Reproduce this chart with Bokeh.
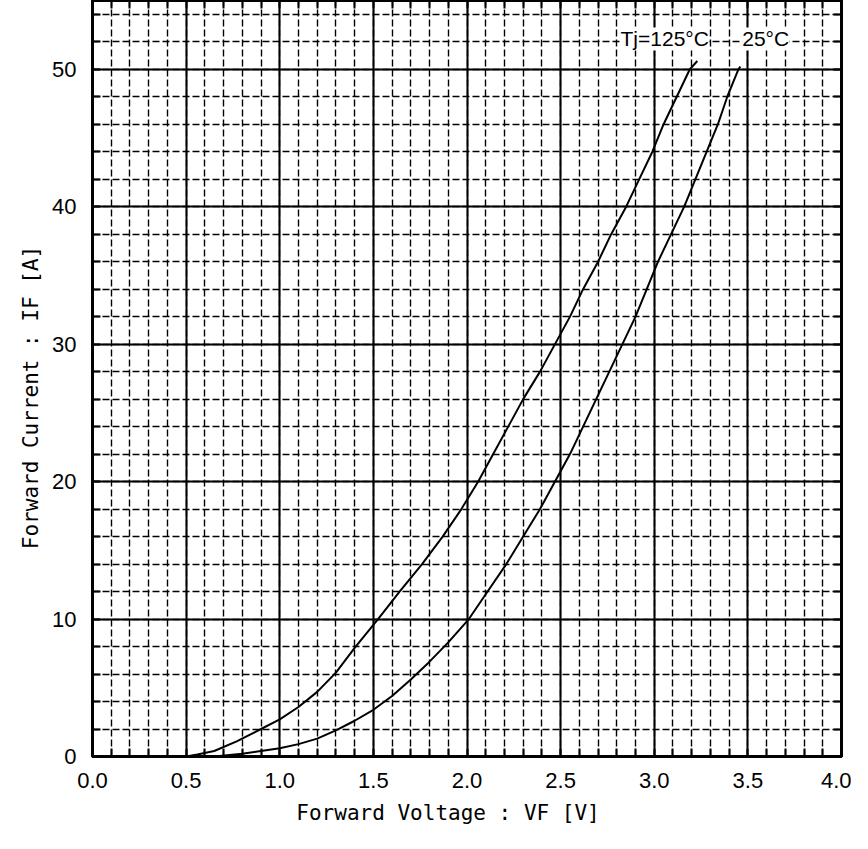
from bokeh.plotting import figure
from bokeh.models import FixedTicker, LinearAxis, Label, Range1d, NumeralTickFormatter
from bokeh.embed import file_html
from bokeh.resources import INLINE

# ---- data ----
vf_125 = [0.50, 0.56, 0.65, 0.77, 0.90, 1.00, 1.10, 1.20, 1.30, 1.40, 1.525, 1.64, 1.76, 1.87, 1.97,
          2.06, 2.14, 2.22, 2.30, 2.39, 2.47, 2.55, 2.62, 2.70, 2.77, 2.85, 2.92, 2.99, 3.05,
          3.12, 3.19, 3.23]
if_125 = [0.0, 0.15, 0.4, 1.1, 2.0, 2.7, 3.6, 4.7, 6.1, 7.9, 10.0, 12.0, 14.0, 16.0, 18.0,
          20.0, 22.0, 24.0, 26.0, 28.0, 30.0, 32.0, 34.0, 36.0, 38.0, 40.0, 42.0, 44.0, 46.0,
          48.0, 50.0, 50.6]

vf_25 = [0.65, 0.80, 0.90, 1.00, 1.10, 1.20, 1.30, 1.40, 1.50, 1.60, 1.70, 1.80, 1.90,
         2.01, 2.11, 2.21, 2.30, 2.39, 2.47, 2.55, 2.62, 2.69, 2.76, 2.83, 2.90, 2.96, 3.02,
         3.09, 3.16, 3.22, 3.28, 3.34, 3.39, 3.45, 3.46]
if_25 = [0.0, 0.2, 0.4, 0.6, 0.9, 1.3, 1.9, 2.6, 3.4, 4.4, 5.6, 6.9, 8.3,
         10.0, 12.0, 14.0, 16.0, 18.0, 20.0, 22.0, 24.0, 26.0, 28.0, 30.0, 32.0, 34.0, 36.0,
         38.0, 40.0, 42.0, 44.0, 46.0, 48.0, 50.0, 50.2]

x_major = [0.0, 0.5, 1.0, 1.5, 2.0, 2.5, 3.0, 3.5, 4.0]
x_minor = [i / 10 for i in range(0, 41)]
y_major = [0, 10, 20, 30, 40, 50]
y_minor = [i for i in range(0, 56, 2)]

series_labels = ["Tj=125°C", "25°C"]
x_title = "Forward Voltage  :  VF  [V]"
y_title = "Forward Current  :  IF  [A]"

# ---- figure ----
p = figure(frame_width=749, frame_height=756,
           x_range=Range1d(0, 4.0), y_range=Range1d(0, 55),
           output_backend="svg", toolbar_location=None,
           min_border_left=92, min_border_right=10, min_border_top=0, min_border_bottom=0,
           background_fill_color="white", border_fill_color="white")
p.outline_line_color = "black"
p.outline_line_width = 3

xt = FixedTicker(ticks=x_major, minor_ticks=x_minor)
yt = FixedTicker(ticks=y_major, minor_ticks=y_minor)

for ax, t in ((p.xaxis[0], xt), (p.yaxis[0], yt)):
    ax.ticker = t
    ax.axis_line_color = "black"
    ax.axis_line_width = 3
    ax.major_tick_in = 0
    ax.major_tick_out = 0
    ax.minor_tick_in = 8
    ax.minor_tick_out = 0
    ax.minor_tick_line_color = "black"
    ax.minor_tick_line_width = 2
    ax.major_label_text_font = "Liberation Sans"
    ax.major_label_text_font_size = "22px"
    ax.major_label_text_color = "black"
    ax.major_label_standoff = 16
    ax.axis_label_text_font = "DejaVu Sans Mono"
    ax.axis_label_text_font_size = "21px"
    ax.axis_label_text_font_style = "normal"
    ax.axis_label_text_color = "black"

p.xaxis[0].formatter = NumeralTickFormatter(format="0.0")
p.xaxis[0].axis_label = x_title
p.yaxis[0].axis_label = y_title
p.xaxis[0].axis_label_standoff = 10
p.yaxis[0].axis_label_standoff = 6

top_ax = LinearAxis(ticker=xt, major_label_text_font_size="0px", major_label_standoff=0,
                    major_tick_in=0, major_tick_out=0, minor_tick_in=8, minor_tick_out=0,
                    minor_tick_line_width=2, axis_line_width=3)
right_ax = LinearAxis(ticker=yt, major_label_text_font_size="0px", major_label_standoff=0,
                      major_tick_in=0, major_tick_out=0, minor_tick_in=8, minor_tick_out=0,
                      minor_tick_line_width=2, axis_line_width=3)
p.add_layout(top_ax, "above")
p.add_layout(right_ax, "right")

for g in (p.xgrid[0], p.ygrid[0]):
    g.grid_line_color = "black"
    g.grid_line_width = 2
    g.grid_line_alpha = 1.0
    g.minor_grid_line_color = "black"
    g.minor_grid_line_width = 1.4
    g.minor_grid_line_dash = "7 3"
    g.minor_grid_line_alpha = 1.0

p.line(vf_125, if_125, line_color="black", line_width=2)
p.line(vf_25, if_25, line_color="black", line_width=2)

p.add_layout(Label(x=2.82, y=52.2, text=series_labels[0], text_font="Liberation Sans",
                   text_font_size="21px", text_baseline="middle", text_color="black",
                   background_fill_color="white"))
p.add_layout(Label(x=3.47, y=52.2, text=series_labels[1], text_font="Liberation Sans",
                   text_font_size="21px", text_baseline="middle", text_color="black",
                   background_fill_color="white"))

open("out.html", "w").write(file_html(p, INLINE))
